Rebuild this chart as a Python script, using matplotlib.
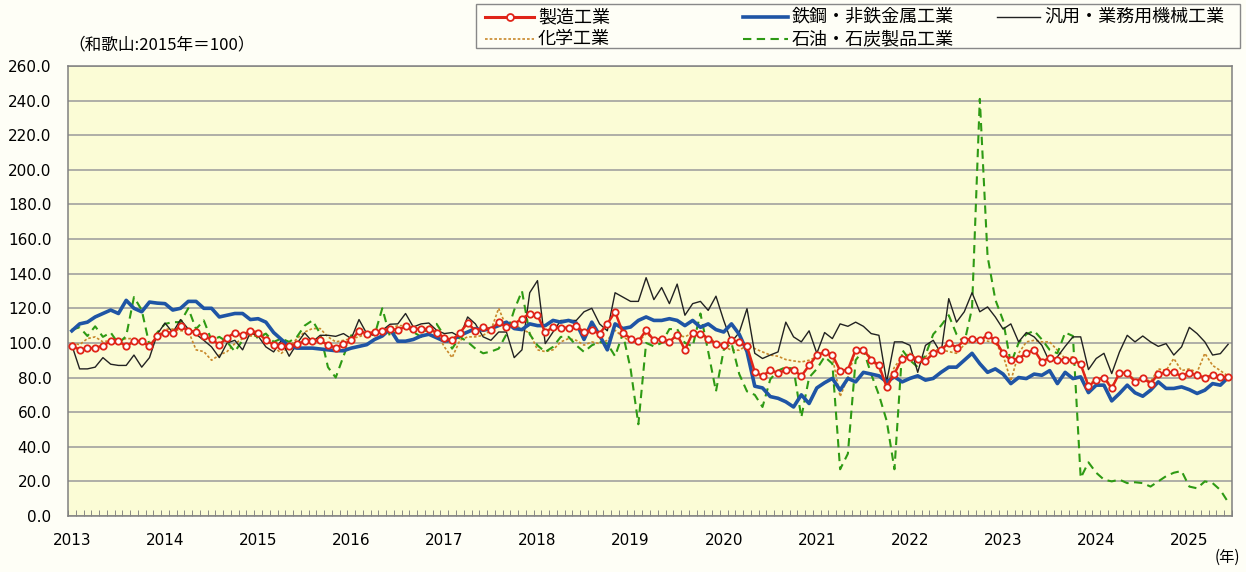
"""
和歌山県 鉱工業生産指数（業種別）の推移
"""
import numpy as np
import matplotlib.pyplot as plt
from matplotlib.lines import Line2D
from matplotlib.patches import Rectangle

plt.rcParams['font.family'] = ['DejaVu Sans', 'Noto Sans CJK JP']
JP = ['Noto Sans CJK JP', 'DejaVu Sans']

# 2013年1月〜2025年6月 (月次, 150点)
start_year = 2013
n_months = 150
year_labels = [str(y) for y in range(2013, 2026)]

seizou = [  # 製造工業
    98.5, 96, 97, 97, 98.5, 101, 101, 98, 101, 101, 98, 104,
    106, 106, 110, 107, 106.5, 104, 102, 99, 103, 106, 104.5, 107,
    106, 101.5, 99, 98.5, 98, 99.5, 101, 101, 101.5, 98.7, 97.3, 99.2,
    101.5, 107, 105.4, 106.3, 107, 108.3, 107.3, 109.6, 108.3, 108, 108, 106,
    103, 101.5, 105.8, 111.5, 107, 109, 107.7, 112, 109, 111, 114, 117,
    116, 106.3, 109, 108.8, 108.8, 109.6, 106.3, 107.3, 105.4, 111, 118, 106,
    102.5, 101, 107.3, 101.5, 102.5, 100.6, 104.8, 96, 105.8, 105.4, 102.5, 99.2,
    98.7, 101.5, 100.6, 98, 83.3, 80.8, 84.2, 82.7, 84.2, 84.6, 80.8, 87,
    92.9, 94.8, 93, 84, 84.5, 96, 96, 90.4, 87, 74.6, 82.3, 91,
    92, 91, 89.6, 94, 96, 100, 97.3, 101.5, 102.5, 101.5, 104.4, 101.5,
    94, 90, 91, 94, 96, 89, 91.5, 90.4, 90, 90.4, 87.7, 75,
    78.5, 80, 73.7, 82.7, 82.7, 77.5, 80, 76.5, 82, 83, 83, 80.8,
    82.7, 81.3, 80, 81.3, 80.4, 80.4,
]
tekkou = [  # 鉄鋼・非鉄金属工業
    107, 111, 112, 115, 117, 119, 117, 124.6, 120, 118, 123.6, 123,
    122.7, 119, 120, 124, 124, 120, 120, 115, 116, 117, 117, 113.5,
    114, 112, 106, 102, 98, 97, 97, 97, 96.5, 96, 95.5, 95.5,
    97, 98, 99, 102, 104, 108, 101, 101, 102, 104, 105, 103,
    101, 101.5, 104.4, 106.3, 108.3, 107.3, 108.3, 110, 112, 108.3, 107.7, 111,
    110, 110, 113, 112, 113, 111.5, 102, 112, 104.4, 96, 111, 108.3,
    109.2, 113, 115, 113, 113, 114, 113, 110, 113, 109, 111, 107.7,
    106.3, 111, 105, 95, 75, 74, 69, 68, 66, 63, 70, 65,
    74, 77, 79.5, 72.7, 79.5, 77.5, 83, 82, 81, 77.5, 80.4, 77.5,
    79.5, 81, 78.5, 79.5, 83, 86, 86, 90, 94, 88, 83, 85,
    82, 76.5, 80, 79.4, 82, 81.3, 84, 76.5, 83, 79.4, 80.4, 71.3,
    75.6, 75.6, 66.5, 70.8, 75.6, 71.2, 69.2, 72.7, 77.5, 73.7, 73.7, 74.6,
    73, 70.8, 72.7, 76.5, 75.6, 80,
]
hanyou = [  # 汎用・業務用機械工業
    98.6, 85, 85, 86, 91.5, 87.7, 87, 87, 93, 86, 91.5, 105,
    111.5, 106, 113.5, 108, 105, 101.5, 97.7, 91.5, 100, 101.5, 96, 106,
    104, 97.7, 94.8, 101.5, 92.3, 99.6, 105.8, 100.6, 104.4, 104.4, 103.8, 105.4,
    102.5, 113.5, 105.4, 104.4, 107.3, 110.8, 111, 117, 109.2, 111, 111.5, 107.3,
    105.4, 106, 103.5, 115, 111, 103.5, 101.5, 106.3, 106.3, 91.5, 96, 129,
    136, 99.6, 106.3, 113, 113, 113, 118, 120, 111, 107, 129, 126.5,
    124, 124, 137.7, 125, 132, 122.7, 134, 116, 122.7, 124, 118.8, 127,
    113, 100.6, 106, 119.8, 94, 91, 93, 94.8, 112, 103.5, 100.6, 107,
    94, 106, 102.5, 111, 109.6, 112, 109.6, 105.4, 104.4, 77.5, 100.6, 100.6,
    98.6, 83, 98.6, 101.5, 94, 125.6, 112, 118, 129, 118, 120.8, 115,
    108, 111, 100.6, 106, 103.5, 98.6, 89, 92, 98, 103.5, 103.5, 84.6,
    91, 94, 82.3, 94.8, 104.4, 100.6, 104, 100.6, 98, 99.6, 93, 97.7,
    109, 105.4, 100.6, 93, 93.8, 99.2,
]
kagaku = [  # 化学工業
    100, 99, 102.5, 103.5, 100.6, 101.5, 101.5, 102.5, 102.5, 100.6, 98.6, 103.5,
    108, 108, 107, 107, 96, 95, 90, 93, 95, 99.6, 102.5, 104,
    104, 105.4, 97.7, 94, 97.7, 102.5, 106.3, 108.3, 108.3, 103.5, 100.6, 101.5,
    102.5, 103.5, 105.4, 106.3, 107.3, 108.3, 110, 110, 108.3, 108.3, 109.2, 106.3,
    97.7, 91.5, 101.5, 103.5, 103.5, 104.4, 107.3, 120, 109.2, 111, 107.7, 105.8,
    96, 95, 96, 100.6, 102.5, 101.5, 98.7, 100.6, 99.6, 101.5, 107.3, 103.5,
    101, 100.6, 105.4, 102.5, 101.5, 100.6, 104.4, 103.5, 105.8, 105.4, 103.5, 100,
    98, 95.8, 95.8, 98.6, 96.7, 94.8, 93, 92.3, 90.4, 89.6, 89, 90,
    92, 94.8, 92, 69, 80, 96, 97, 91, 85, 76, 86, 92,
    94, 90, 92, 96, 96, 95, 94, 99, 101, 102, 101, 100,
    93, 78, 94, 100.6, 101.5, 100.6, 100.6, 95.8, 91, 92, 87, 76.5,
    78.5, 80.4, 74.6, 82.3, 83, 78.5, 80.4, 77.5, 85, 84, 91, 84,
    85, 83, 94, 87, 84, 80.8,
]
sekiyu = [  # 石油・石炭製品工業
    107.7, 109, 104, 109.6, 103.5, 106, 99.6, 104, 126.5, 119, 98.6, 106,
    111, 112, 112, 120, 108, 113, 101.5, 103.5, 100.6, 95, 101.5, 108,
    102.5, 105.4, 100.6, 102.5, 100.6, 103.5, 110, 113, 105.4, 86, 80, 92.3,
    104.4, 108.3, 106.3, 104.4, 120, 103.5, 107.3, 110, 106.3, 103.5, 109.2, 111,
    104, 96.7, 103.5, 100.6, 96.7, 94, 95, 96.7, 105, 119, 130, 105,
    98.6, 94.8, 97.7, 103.5, 103.5, 98.6, 94.8, 98.6, 100.6, 99.6, 92.3, 105.4,
    85, 53, 100, 98, 100, 108, 108, 100, 98, 117, 95, 72,
    96, 100, 82, 72, 70, 63, 79, 84, 86, 85, 57, 80,
    85, 92, 88, 27, 36, 90, 96, 82, 70, 55, 27, 96,
    90, 86, 93, 105, 110, 116, 105, 100, 120, 241, 150, 125,
    113, 88, 100, 105, 107, 102, 96, 94, 106, 104, 22, 31,
    25, 21, 20, 21, 19, 19.5, 19, 17, 20, 23, 25, 26,
    17, 16, 20, 19, 15, 8,
]

W, H = 1246, 572
fig = plt.figure(figsize=(W / 100, H / 100), dpi=100)
fig.patch.set_facecolor('#fefef6')
ax = fig.add_axes([68 / W, 1 - 516 / H, (1232 - 68) / W, (516 - 66) / H])
ax.set_facecolor('#fbfcd6')

x = np.arange(n_months)
ax.plot(x, kagaku, color='#c8882a', lw=1.2, dashes=(1.6, 1.2), zorder=3)
ax.plot(x, sekiyu, color='#2e9a14', lw=1.5, dashes=(4, 2.6), zorder=3)
ax.plot(x, hanyou, color='#222222', lw=1.0, zorder=4)
ax.plot(x, tekkou, color='#1f55a5', lw=2.6, zorder=5)
ax.plot(x, seizou, color='#e02418', lw=1.8, marker='o', markersize=4.6,
        markerfacecolor='white', markeredgecolor='#e02418', markeredgewidth=1.3, zorder=6)

ax.set_xlim(-0.5, n_months - 0.5)
ax.set_ylim(0, 260)
ax.set_yticks(np.arange(0, 261, 20))
ax.set_yticklabels([f'{v:.1f}' for v in np.arange(0, 261, 20)], fontsize=11)
ax.set_xticks(np.arange(0, n_months, 12))
ax.set_xticklabels(year_labels, fontsize=11)
ax.set_xticks(np.arange(-0.5, n_months, 1), minor=True)
ax.tick_params(axis='x', which='major', length=0, pad=12)
ax.tick_params(axis='x', which='minor', direction='in', length=4, color='#777777')
ax.tick_params(axis='y', length=0, pad=12)
ax.grid(axis='y', color='#9a9a9a', lw=1.1)
ax.set_axisbelow(True)
for s in ax.spines.values():
    s.set_color('#808080')
    s.set_linewidth(1.1)

fig.text(68 / W, 1 - 45 / H, '（和歌山:2015年＝100）', fontsize=12, family=JP,
         ha='left', va='center')
fig.text(1240 / W, 1 - 557 / H, '(年)', fontsize=11, family=JP, ha='right', va='center')

# 凡例（手組み）
fig.patches.append(Rectangle((476 / W, 1 - 48 / H), (1240 - 476) / W, 44 / H,
                             transform=fig.transFigure, facecolor='#fefef6',
                             edgecolor='#888888', lw=1.0))
entries = [
    (485, 534, 17, '製造工業', dict(color='#e02418', lw=2.2, marker='o', markersize=5,
                                 markerfacecolor='white', markeredgewidth=1.3, markevery=[1])),
    (485, 534, 39, '化学工業', dict(color='#c8882a', lw=1.2, dashes=(1.6, 1.2))),
    (743, 788, 17, '鉄鋼・非鉄金属工業', dict(color='#1f55a5', lw=2.6)),
    (743, 788, 39, '石油・石炭製品工業', dict(color='#2e9a14', lw=1.5, dashes=(4, 2.6))),
    (997, 1040, 17, '汎用・業務用機械工業', dict(color='#222222', lw=1.0)),
]
for x1, x2, yy, label, style in entries:
    fy = 1 - yy / H
    fig.add_artist(Line2D([x1 / W, (x1 + x2) / 2 / W, x2 / W], [fy, fy, fy],
                          transform=fig.transFigure, **style))
    fig.text((x2 + 4) / W, fy, label, fontsize=13, family=JP, ha='left', va='center')

fig.savefig('out.png', dpi=100, facecolor=fig.get_facecolor())
